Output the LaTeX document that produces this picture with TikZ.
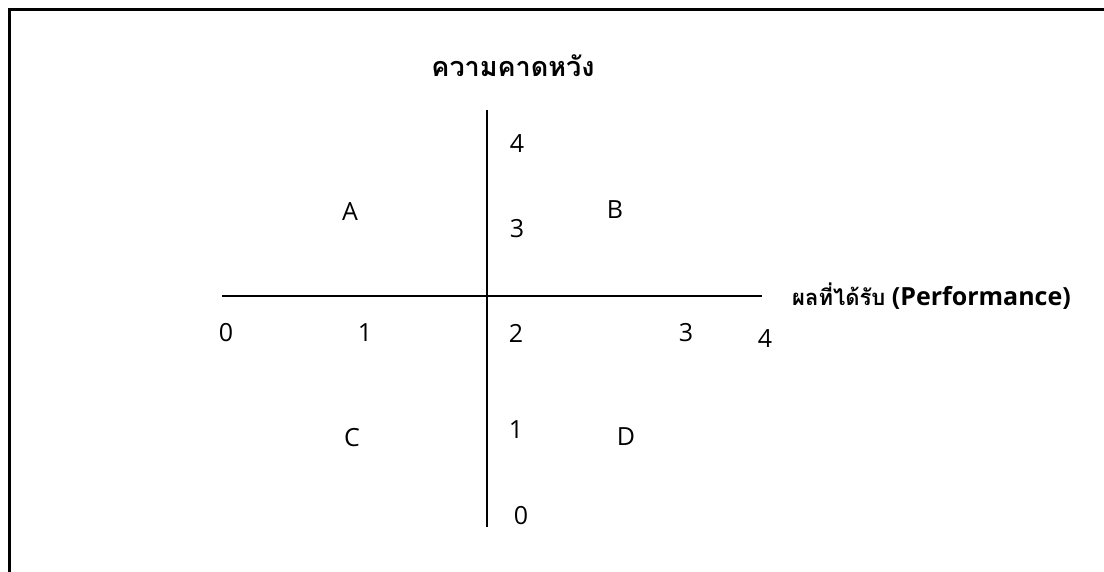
\documentclass[tikz,border=0pt]{standalone}
\usepackage{fontspec}
\setmainfont{Open Sans}
\newfontfamily\thaifont[Script=Thai]{Loma}
\begin{document}
\begin{tikzpicture}[x=1pt,y=-1pt,
  lbl/.style={font=\fontsize{25}{30}\selectfont, inner sep=0pt, anchor=center},
  ttl/.style={font=\thaifont\bfseries\fontsize{27}{32}\selectfont, inner sep=0pt},
  perfstyle/.style={font=\bfseries\fontsize{25}{30}\selectfont, inner sep=0pt},
  axis/.style={line width=2.4pt}]
\useasboundingbox (0,0) rectangle (1104,572);
\fill[white] (0,0) rectangle (1104,572);
\draw[line width=3pt] (9.5,572) -- (9.5,10) -- (1104,10);
% axes
\coordinate (hl) at (222,296);
\coordinate (hr) at (762,296);
\coordinate (vt) at (487,110);
\coordinate (vb) at (487,527);
\draw[axis] (hl) -- (hr);
\draw[axis] (vt) -- (vb);
\node[ttl] (title) at (513,66) {ความคาดหวัง};
\node[perfstyle, anchor=west] (perf) at (792,296) {{\thaifont\fontsize{22}{26}\selectfont ผลที่ได้รับ} (Performance)};
% x labels
\node[lbl] (x0) at (226,333) {0};
\node[lbl] (x1) at (365,333) {1};
\node[lbl] (x2) at (516,333) {2};
\node[lbl] (x3) at (686,333) {3};
\node[lbl] (x4) at (765,339) {4};
% y labels
\node[lbl] (y4) at (517,144) {4};
\node[lbl] (y3) at (517,229) {3};
\node[lbl] (y1) at (516,430) {1};
\node[lbl] (y0) at (521,516) {0};
% quadrants
\node[lbl] (A) at (350,212) {A};
\node[lbl] (B) at (615,210) {B};
\node[lbl] (C) at (352,438) {C};
\node[lbl] (D) at (626,437) {D};
\end{tikzpicture}
\end{document}
